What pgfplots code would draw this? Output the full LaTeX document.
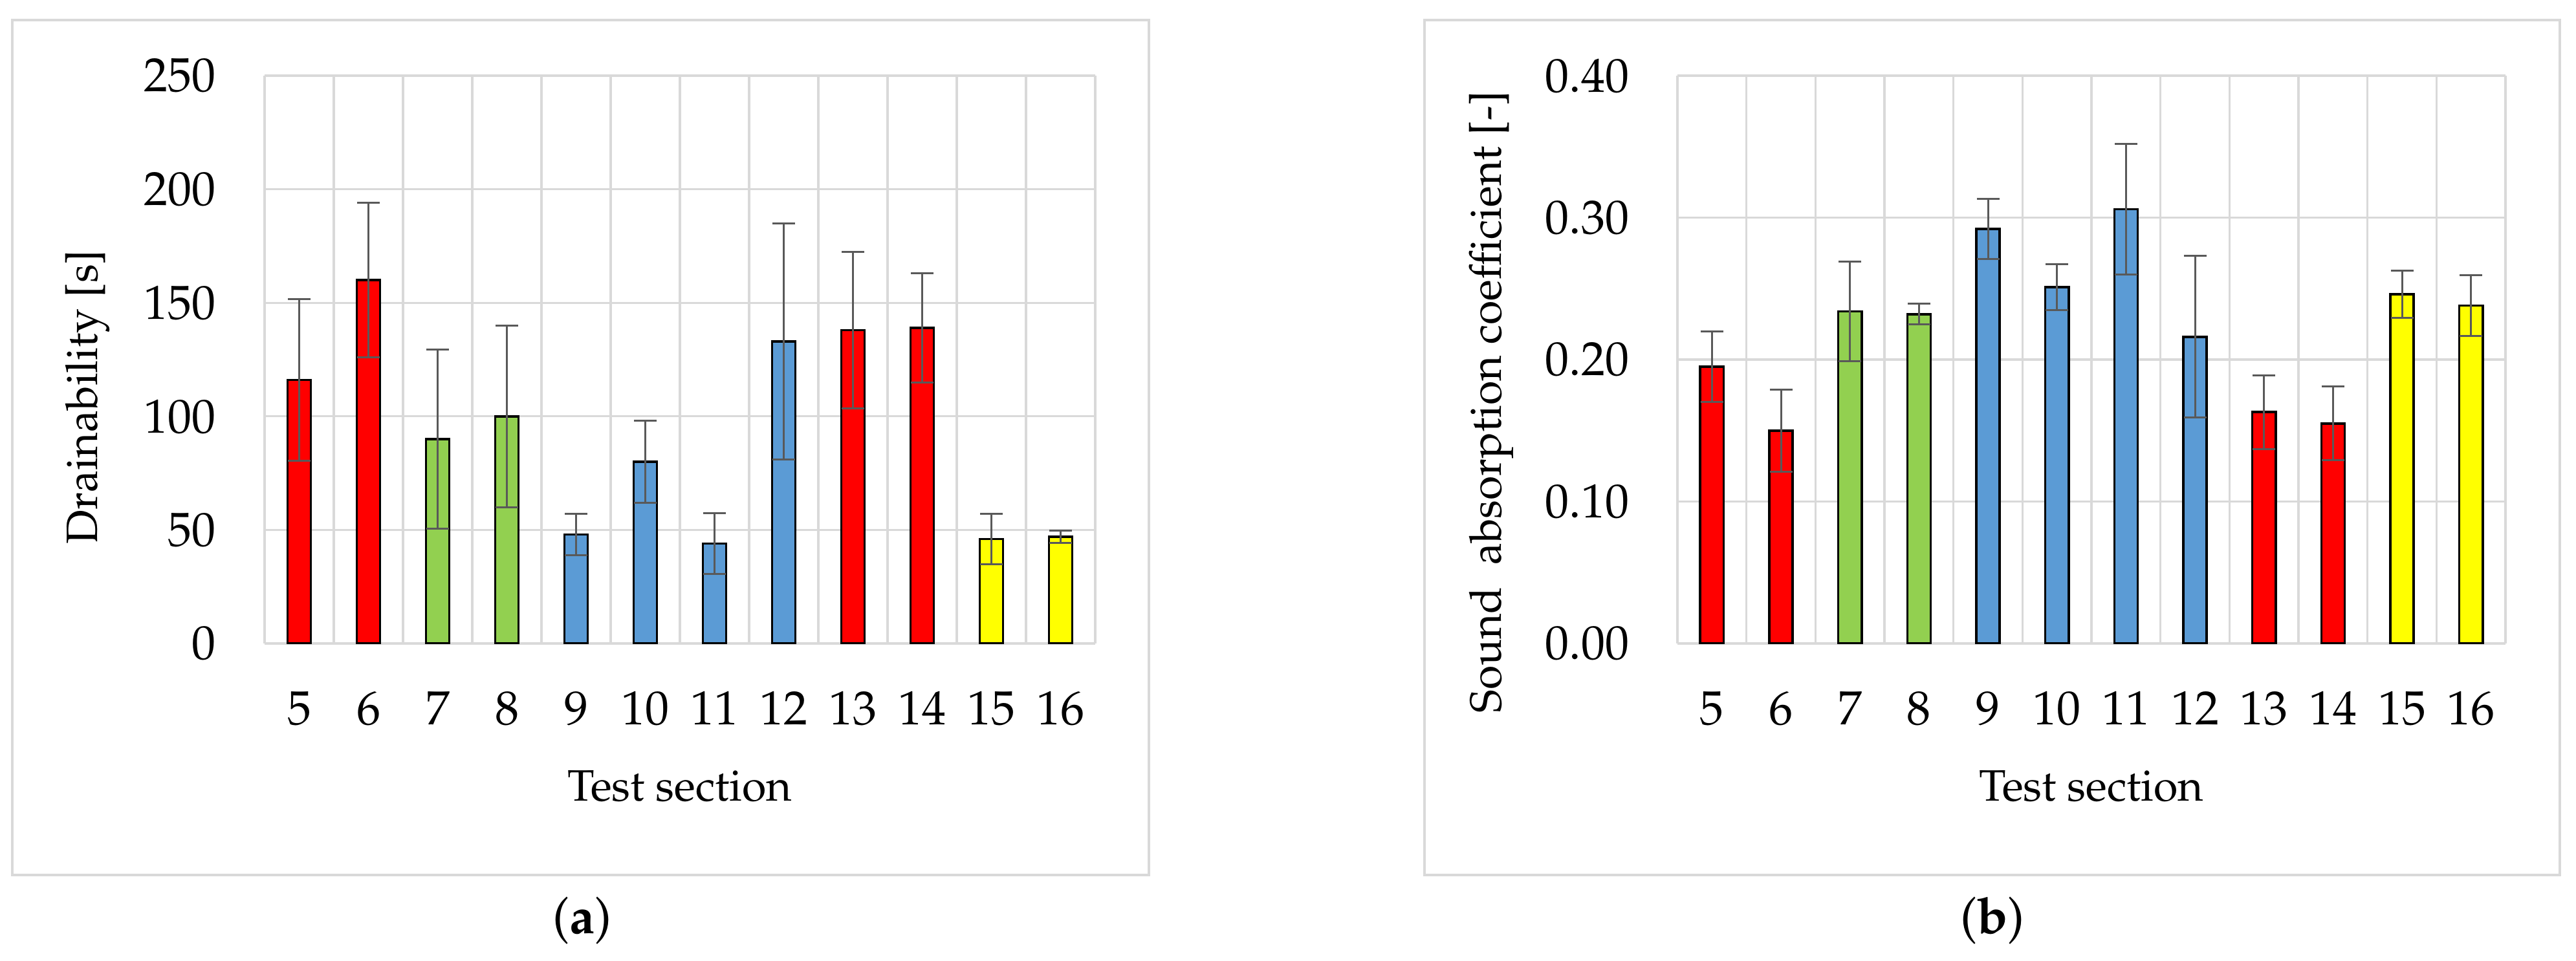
\documentclass[border=0pt]{standalone}
\usepackage[T1]{fontenc}
\usepackage{mathpazo}
\usepackage{pgfplots}
\pgfplotsset{compat=1.18}
\definecolor{cred}{HTML}{FF0000}
\definecolor{cgreen}{HTML}{92D050}
\definecolor{cblue}{HTML}{5B9BD5}
\definecolor{cyellow}{HTML}{FFFF00}
\definecolor{gridgrey}{HTML}{D9D9D9}
\definecolor{errgrey}{HTML}{595959}
\definecolor{framegrey}{HTML}{D9D9D9}
\pgfplotsset{
  panel/.style={
    scale only axis, height=175.6pt,
    xmin=-0.5, xmax=11.5, ymin=0,
    xtick={0,1,2,3,4,5,6,7,8,9,10,11},
    xticklabels={5,6,7,8,9,10,11,12,13,14,15,16},
    minor xtick={-0.5,0.5,1.5,2.5,3.5,4.5,5.5,6.5,7.5,8.5,9.5,10.5,11.5},
    xminorgrids=true, ymajorgrids=true, xmajorgrids=false,
    major tick length=0pt, minor tick length=0pt,
    axis line style={draw=none},
    grid style={gridgrey, line width=0.65pt},
    minor grid style={gridgrey, line width=0.65pt},
    tick label style={font=\fontsize{14.8}{17}\selectfont},
    xticklabel style={inner sep=0pt, anchor=north, yshift=-14.7pt},
    yticklabel style={inner sep=0pt, anchor=east, xshift=-14.8pt},
    label style={font=\fontsize{13.6}{16}\selectfont},
    xlabel={Test section},
    xlabel style={at={(axis description cs:0.5,0)}, anchor=north, inner sep=0pt, yshift=-39pt},
  },
  mybar/.style={ybar, bar width=0.34, draw=black, line width=0.7pt, fill=#1,
    error bars/.cd, y dir=both, y explicit,
    error bar style={errgrey, line width=0.6pt},
    error mark options={rotate=90, errgrey, line width=0.6pt, mark size=3.5pt}},
}
\begin{document}
\begin{tikzpicture}
\path (0pt,0pt) rectangle (796.4pt,297pt);
\draw[framegrey, line width=0.9pt] (3.8pt,26.4pt) rectangle (355.2pt,290.8pt);
\draw[framegrey, line width=0.9pt] (440.4pt,26.4pt) rectangle (791.4pt,290.8pt);
\begin{axis}[panel, at={(81.8pt,98pt)}, anchor=south west, width=256.8pt,
  ymax=250, ytick={0,50,100,150,200,250},
  ylabel={Drainability [s]},
  ylabel style={at={(axis description cs:-0.2134,0.434)}, anchor=center}]
\addplot[mybar=cred] coordinates {(0,116) +- (0,35.5) (1,160) +- (0,34) (8,138) +- (0,34.5) (9,139) +- (0,24)};
\addplot[mybar=cgreen] coordinates {(2,90) +- (0,39.5) (3,100) +- (0,40)};
\addplot[mybar=cblue] coordinates {(4,48) +- (0,9) (5,80) +- (0,18) (6,44) +- (0,13.5) (7,133) +- (0,52)};
\addplot[mybar=cyellow] coordinates {(10,46) +- (0,11) (11,47) +- (0,2.6)};
\end{axis}
\begin{axis}[panel, at={(518.6pt,98pt)}, anchor=south west, width=256pt,
  ymax=0.4, ytick={0,0.1,0.2,0.3,0.4},
  yticklabel style={/pgf/number format/.cd, fixed, fixed zerofill, precision=2},
  ylabel={Sound\ \ absorption coefficient [-]},
  ylabel style={at={(axis description cs:-0.225,0.425)}, anchor=center}]
\addplot[mybar=cred] coordinates {(0,0.195) +- (0,0.025) (1,0.150) +- (0,0.029) (8,0.163) +- (0,0.026) (9,0.155) +- (0,0.026)};
\addplot[mybar=cgreen] coordinates {(2,0.234) +- (0,0.035) (3,0.232) +- (0,0.0073)};
\addplot[mybar=cblue] coordinates {(4,0.292) +- (0,0.021) (5,0.251) +- (0,0.016) (6,0.306) +- (0,0.046) (7,0.216) +- (0,0.057)};
\addplot[mybar=cyellow] coordinates {(10,0.246) +- (0,0.0165) (11,0.238) +- (0,0.0215)};
\end{axis}
\node[font=\fontsize{15.6}{18}\selectfont] at (180pt,12.4pt) {(\textbf{a})};
\node[font=\fontsize{15.6}{18}\selectfont] at (616pt,12.4pt) {(\textbf{b})};
\end{tikzpicture}
\end{document}
